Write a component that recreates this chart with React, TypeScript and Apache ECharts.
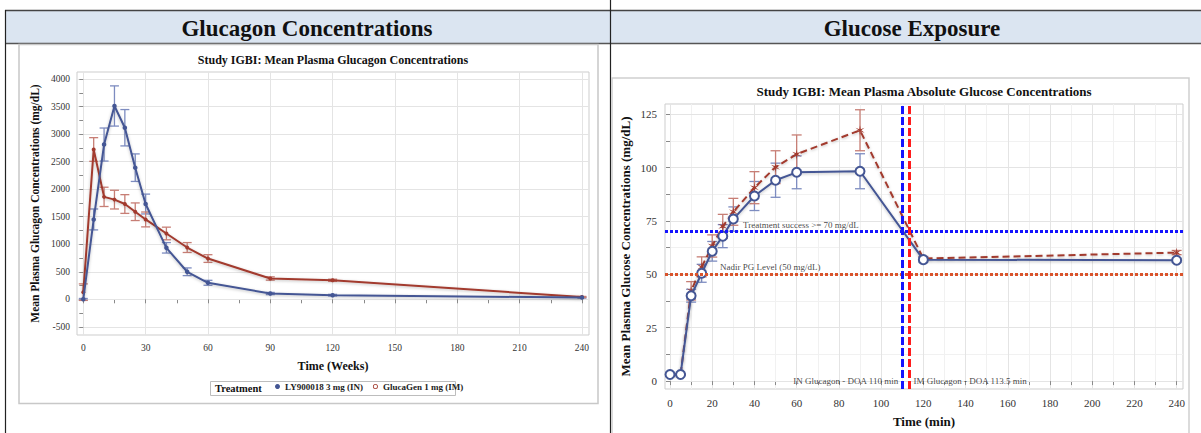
import React, { useEffect, useRef } from 'react';
import * as echarts from 'echarts';

const FONT = '"Liberation Serif", "DejaVu Serif", serif';

// ---- Glucagon chart data ----
const glucagonTimes = [0, 5, 10, 15, 20, 25, 30, 40, 50, 60, 90, 120, 240];
const lyMean = [0, 1450, 2810, 3510, 3115, 2390, 1730, 935, 500, 300, 105, 75, 32];
const lyErr = [15, 190, 300, 365, 330, 250, 180, 95, 70, 45, 20, 15, 10];
const gluMean = [130, 2720, 1860, 1810, 1730, 1590, 1450, 1195, 940, 740, 378, 345, 42];
const gluErr = [150, 215, 175, 170, 170, 160, 135, 115, 90, 70, 30, 20, 10];
const gTimeTicks = [0, 30, 60, 90, 120, 150, 180, 210, 240];
const gTimeMinor = [15, 45, 75, 105, 135, 165, 195, 225];
const gConcTicks = [-500, 0, 500, 1000, 1500, 2000, 2500, 3000, 3500, 4000];
const gConcMinor = [-250, 250, 750, 1250, 1750, 2250, 2750, 3250, 3750];

// ---- Glucose chart data ----
const glucoseTimes = [0, 5, 10, 15, 20, 25, 30, 40, 50, 60, 90, 120, 240];
const inMean = [3.1, 3.1, 40, 50.5, 60.8, 67.9, 75.9, 86.7, 94.1, 97.8, 98.3, 56.9, 56.6];
const inErr = [0.4, 0.4, 3, 4.2, 4.6, 5.4, 5.7, 6.8, 8, 7.7, 8.2, 1, 0.8];
const imMean = [3.1, 3.1, 42.3, 53.5, 63.3, 72.5, 79.3, 90.6, 100.2, 106.3, 117.5, 57.4, 60.2];
const imErr = [0.4, 0.4, 4.3, 4.7, 5.2, 5.6, 6.3, 7.5, 7.7, 9, 9.6, 1, 1];
const mTimeTicks = [0, 20, 40, 60, 80, 100, 120, 140, 160, 180, 200, 220, 240];
const mTimeMinor = [10, 30, 50, 70, 90, 110, 130, 150, 170, 190, 210, 230];
const mConcTicks = [0, 25, 50, 75, 100, 125];
const mConcMinor = [12.5, 37.5, 62.5, 87.5, 112.5];
const successLevel = 70;
const nadirLevel = 50;
const inDoa = 110;
const imDoa = 113.5;

const BLUE = '#445694';
const RED = '#a23a2e';
const BLUE_ERR = '#7d8cc0';
const RED_ERR = '#c77e75';

const STAR = 'path://M0,-5 L0.65,-1.13 L4.33,-2.5 L1.3,0 L4.33,2.5 L0.65,1.13 L0,5 L-0.65,1.13 L-4.33,2.5 L-1.3,0 L-4.33,-2.5 L-0.65,-1.13 Z';
const RING = 'path://M0,-5 A5,5 0 1,1 0,5 A5,5 0 1,1 0,-5 Z M0,-3.4 A3.4,3.4 0 1,0 0,3.4 A3.4,3.4 0 1,0 0,-3.4 Z';

function errSeries(name: string, axis: number, times: number[], mean: number[], err: number[], color: string, cap: number) {
  return {
    type: 'custom',
    name,
    xAxisIndex: axis,
    yAxisIndex: axis,
    silent: true,
    z: 2,
    encode: { x: 0, y: [1, 2] },
    data: times.map((t, i) => [t, mean[i] - err[i], mean[i] + err[i]]),
    renderItem: (params: any, api: any) => {
      const lo = api.coord([api.value(0), api.value(1)]);
      const hi = api.coord([api.value(0), api.value(2)]);
      const style = { stroke: color, lineWidth: 1.3, fill: 'none' };
      return {
        type: 'group',
        children: [
          { type: 'line', shape: { x1: hi[0], y1: hi[1], x2: lo[0], y2: lo[1] }, style },
          { type: 'line', shape: { x1: hi[0] - cap, y1: hi[1], x2: hi[0] + cap, y2: hi[1] }, style },
          { type: 'line', shape: { x1: lo[0] - cap, y1: lo[1], x2: lo[0] + cap, y2: lo[1] }, style },
        ],
      };
    },
  };
}

function axisPair(
  gridIndex: number, position: string, min: number, max: number,
  major: number[], minor: number[], labelSize: number, margin: number,
  name: string, nameGap: number, nameSize: number, minorSplit: boolean
) {
  const primary: any = {
    type: 'value', gridIndex, position, min, max,
    axisLine: { show: false },
    axisTick: { show: true, customValues: major, length: 4, lineStyle: { color: '#8a8a8a' } },
    axisLabel: {
      customValues: major, fontSize: labelSize, margin, color: '#333', fontFamily: FONT,
      formatter: (v: number) => String(v),
    },
    splitLine: { show: true, lineStyle: { color: '#e4e4e4', width: 1 } },
    name, nameLocation: 'middle', nameGap,
    nameTextStyle: { fontFamily: FONT, fontWeight: 'bold', fontSize: nameSize, color: '#111' },
    z: 1,
  };
  const secondary: any = {
    type: 'value', gridIndex, position, min, max,
    axisLine: { show: false },
    axisTick: { show: true, customValues: minor, length: 4, lineStyle: { color: '#8a8a8a' } },
    axisLabel: { show: false },
    splitLine: { show: minorSplit, lineStyle: { color: '#f1f1f1', width: 1 } },
    z: 0,
  };
  return [primary, secondary];
}

function buildOption(): any {
  const lx = axisPair(0, 'bottom', -3.03, 243.4, gTimeTicks, gTimeMinor, 9.5, 8, 'Time (Weeks)', 25, 12, false);
  const ly = axisPair(0, 'left', -648, 4127, gConcTicks, gConcMinor, 9.5, 7, 'Mean Plasma Glucagon Concentrations (mg/dL)', 36, 11.5, false);
  const rx = axisPair(1, 'bottom', -2.37, 243, mTimeTicks, mTimeMinor, 11, 8, 'Time (min)', 26, 13, true);
  const ry = axisPair(1, 'left', -3.7, 129.8, mConcTicks, mConcMinor, 11, 8, 'Mean Plasma Glucose Concentrations (mg/dL)', 33, 13, true);

  const shadow = { shadowBlur: 3, shadowColor: 'rgba(0,0,0,0.25)', shadowOffsetY: 1 };

  const annotStyle = { fontFamily: FONT, fontSize: 9, color: '#111' };

  return {
    animation: false,
    backgroundColor: '#ffffff',
    grid: [
      { left: 77, top: 72, width: 512, height: 263, show: true, borderColor: '#cdcdcd', borderWidth: 1, backgroundColor: 'transparent' },
      { left: 665, top: 104, width: 518, height: 288, show: true, borderColor: '#cdcdcd', borderWidth: 1, backgroundColor: 'transparent' },
    ],
    xAxis: [lx[0], lx[1], rx[0], rx[1]],
    yAxis: [ly[0], ly[1], ry[0], ry[1]],
    legend: {
      left: 275, top: 382, padding: 0, itemWidth: 5, itemHeight: 5, itemGap: 10,
      textStyle: { fontFamily: FONT, fontSize: 9, fontWeight: 'bold', color: '#222' },
      data: [
        { name: 'LY900018 3 mg (IN)', icon: 'circle' },
        { name: 'GlucaGen 1 mg (IM)', icon: RING },
      ],
    },
    graphic: [
      // table
      { type: 'rect', z: -10, shape: { x: 5, y: 11, width: 1196, height: 32 }, style: { fill: '#dbe5f1' } },
      { type: 'line', z: -9, shape: { x1: 5, y1: 10.5, x2: 1201, y2: 10.5 }, style: { stroke: '#444', lineWidth: 1.5 } },
      { type: 'line', z: -9, shape: { x1: 5, y1: 43.5, x2: 1201, y2: 43.5 }, style: { stroke: '#555', lineWidth: 1.5 } },
      { type: 'line', z: -9, shape: { x1: 5.5, y1: 10, x2: 5.5, y2: 433 }, style: { stroke: '#222', lineWidth: 1.2 } },
      { type: 'line', z: -9, shape: { x1: 610.5, y1: 0, x2: 610.5, y2: 433 }, style: { stroke: '#222', lineWidth: 1.2 } },
      { type: 'text', x: 307, y: 28, style: { text: 'Glucagon Concentrations', font: 'bold 23px "Liberation Serif", serif', fill: '#111', textAlign: 'center', textVerticalAlign: 'middle' } },
      { type: 'text', x: 912, y: 28, style: { text: 'Glucose Exposure', font: 'bold 23px "Liberation Serif", serif', fill: '#111', textAlign: 'center', textVerticalAlign: 'middle' } },
      // chart image frames
      { type: 'rect', z: -8, shape: { x: 19, y: 44.5, width: 579, height: 359 }, style: { fill: '#fff', stroke: '#c8c8c8', lineWidth: 1.5 } },
      { type: 'rect', z: -8, shape: { x: 612, y: 78, width: 577, height: 370 }, style: { fill: '#fff', stroke: '#cfcfcf', lineWidth: 1.5 } },
      // chart titles
      { type: 'text', x: 333, y: 60, style: { text: 'Study IGBI: Mean Plasma Glucagon Concentrations', font: 'bold 12px "Liberation Serif", serif', fill: '#111', textAlign: 'center', textVerticalAlign: 'middle' } },
      { type: 'text', x: 924, y: 91, style: { text: 'Study IGBI: Mean Plasma Absolute Glucose Concentrations', font: 'bold 13px "Liberation Serif", serif', fill: '#111', textAlign: 'center', textVerticalAlign: 'middle' } },
      // legend box
      { type: 'rect', z: -5, shape: { x: 210.5, y: 381.5, width: 245, height: 14 }, style: { fill: '#fff', stroke: '#bdbdbd', lineWidth: 1 } },
      { type: 'text', x: 215, y: 388.5, style: { text: 'Treatment', font: 'bold 10.5px "Liberation Serif", serif', fill: '#111', textVerticalAlign: 'middle' } },
    ],
    series: [
      errSeries('LY err', 0, glucagonTimes, lyMean, lyErr, BLUE_ERR, 4.5),
      errSeries('GlucaGen err', 0, glucagonTimes, gluMean, gluErr, RED_ERR, 4.5),
      {
        type: 'line', name: 'GlucaGen 1 mg (IM)', xAxisIndex: 0, yAxisIndex: 0, z: 3,
        data: glucagonTimes.map((t, i) => [t, gluMean[i]]),
        symbol: 'circle', symbolSize: 4, showSymbol: true,
        lineStyle: { color: RED, width: 2, ...shadow }, itemStyle: { color: RED },
      },
      {
        type: 'line', name: 'LY900018 3 mg (IN)', xAxisIndex: 0, yAxisIndex: 0, z: 4,
        data: glucagonTimes.map((t, i) => [t, lyMean[i]]),
        symbol: 'circle', symbolSize: 4.5, showSymbol: true,
        lineStyle: { color: BLUE, width: 2, ...shadow }, itemStyle: { color: BLUE },
      },
      errSeries('IN err', 2, glucoseTimes, inMean, inErr, BLUE_ERR, 5),
      errSeries('IM err', 2, glucoseTimes, imMean, imErr, RED_ERR, 5),
      {
        type: 'line', name: 'IN Glucagon', xAxisIndex: 2, yAxisIndex: 2, z: 4,
        data: glucoseTimes.map((t, i) => [t, inMean[i]]),
        symbol: 'emptyCircle', symbolSize: 9, showSymbol: true,
        lineStyle: { color: BLUE, width: 2, ...shadow }, itemStyle: { color: BLUE, borderColor: BLUE, borderWidth: 2 },
        markLine: {
          silent: true, symbol: 'none', label: { show: false }, z: 6,
          data: [
            { yAxis: successLevel, lineStyle: { color: '#1414ff', type: [3, 2], width: 3 } },
            { yAxis: nadirLevel, lineStyle: { color: '#d9532b', type: [3, 2], width: 3 } },
            { xAxis: inDoa, lineStyle: { color: '#1414ff', type: [8, 3], width: 3 } },
            { xAxis: imDoa, lineStyle: { color: '#ff1c1c', type: [8, 3], width: 3 } },
          ],
        },
      },
      {
        type: 'line', name: 'IM Glucagon', xAxisIndex: 2, yAxisIndex: 2, z: 3,
        data: glucoseTimes.map((t, i) => [t, imMean[i]]),
        symbol: STAR, symbolSize: [9, 10], showSymbol: true,
        lineStyle: { color: RED, width: 2, type: [7, 4], ...shadow }, itemStyle: { color: RED },
      },
      {
        type: 'scatter', name: 'annotations', xAxisIndex: 2, yAxisIndex: 2, z: 7, silent: true,
        symbolSize: 0,
        data: [
          { value: [34.6, successLevel], label: { show: true, position: 'right', distance: 0, offset: [0, -7], formatter: 'Treatment success >= 70 mg/dL', ...annotStyle } },
          { value: [23.7, nadirLevel], label: { show: true, position: 'right', distance: 0, offset: [0, -7], formatter: 'Nadir PG Level (50 mg/dL)', ...annotStyle } },
          { value: [inDoa, 0], label: { show: true, position: 'left', distance: 4, formatter: 'IN Glucagon - DOA 110 min', ...annotStyle } },
          { value: [imDoa, 0], label: { show: true, position: 'right', distance: 4, formatter: 'IM Glucagon - DOA 113.5 min', ...annotStyle } },
        ],
      },
    ],
  };
}

export default function App() {
  const ref = useRef<HTMLDivElement>(null);
  useEffect(() => {
    if (!ref.current) return;
    const chart = echarts.init(ref.current, null, { renderer: 'svg', width: 1201, height: 433 });
    chart.setOption(buildOption());
    return () => chart.dispose();
  }, []);
  return <div ref={ref} style={{ position: 'absolute', left: 0, top: 0, width: 1201, height: 433 }} />;
}
